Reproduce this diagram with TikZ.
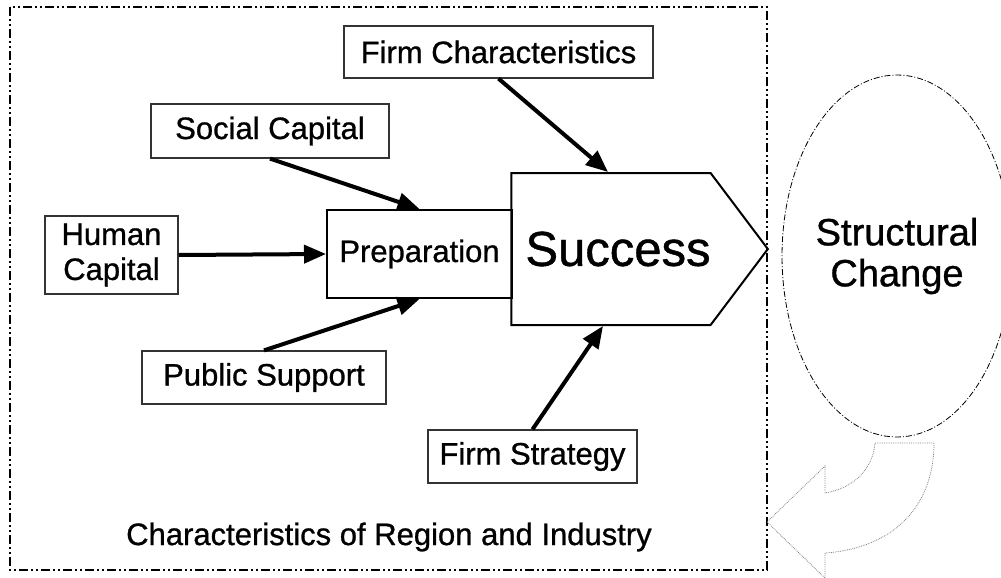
\documentclass[tikz,border=0pt]{standalone}
\usepackage{fontspec}
\setmainfont{Liberation Sans}
\newfontfamily\heavysans{Liberation Sans}[FakeBold=0.9]
\usetikzlibrary{arrows.meta,shapes.geometric,shapes.symbols}

\begin{document}
\begin{tikzpicture}[x=1pt,y=-1pt,
  box/.style={draw=black!80,line width=1.2pt,inner sep=0pt,align=center,font=\heavysans\fontsize{31}{35}\selectfont},
  link/.style={line width=4pt,-{Triangle[length=22pt,width=18pt]}},
  dashdotdot/.style={dash pattern=on 9pt off 3pt on 2pt off 3pt on 2pt off 3pt}]
  \useasboundingbox (0,0) rectangle (1001,578);
  % region and industry frame
  \draw[line width=2pt,dashdotdot] (10,7) rectangle (767,570);
  \node[font=\heavysans\fontsize{31}{35}\selectfont] (region) at (389,537) {Characteristics of Region and Industry};
  \foreach \name/\x/\y/\w/\h/\lab in {
    firmchar/498.5/52/309/52/{Firm Characteristics},
    social/270/131/238/54/{Social Capital},
    human/111.5/255/133/78/{Human\\Capital},
    public/264/377.5/244/53/{Public Support},
    strategy/532.5/456.5/209/53/{Firm Strategy}}
    \node[box,minimum width=\w,minimum height=\h] (\name) at (\x,\y) {\lab};
  \node[box,draw=black,line width=2pt,minimum width=185,minimum height=88] (prep) at (419.5,254) {Preparation};
  \node[draw,line width=2pt,signal,signal to=east,signal pointer angle=106,inner sep=0pt,
    minimum width=255,minimum height=152,font=\heavysans\fontsize{49}{55}\selectfont] (success) at (611,249) {\hspace*{14pt}Success};
  % structural change
  \node[draw,ellipse,line width=0.8pt,dash pattern=on 6pt off 2pt on 1pt off 2pt,inner sep=0pt,
    minimum width=224,minimum height=362,align=center,font=\heavysans\fontsize{38}{41}\selectfont] (change) at (897,256) {Structural\\Change};
  \draw[gray,densely dotted,line width=0.8pt] (875,443) -- (934,443)
    .. controls (934,505) and (895,548) .. (825,553) -- (825,578) -- (767,522) -- (825,466) -- (825,493)
    .. controls (855,488) and (873,468) .. (875,443) -- cycle;
  % influences
  \draw[link] (firmchar.south) -- ([xshift=-3pt]success.north);
  \draw[link] (social.south) -- (prep.north);
  \draw[link] (human.east) -- (prep.west);
  \draw[link] (public.north) -- (prep.south);
  \draw[link] (strategy.north) -- ([xshift=-8pt]success.south);
\end{tikzpicture}
\end{document}
